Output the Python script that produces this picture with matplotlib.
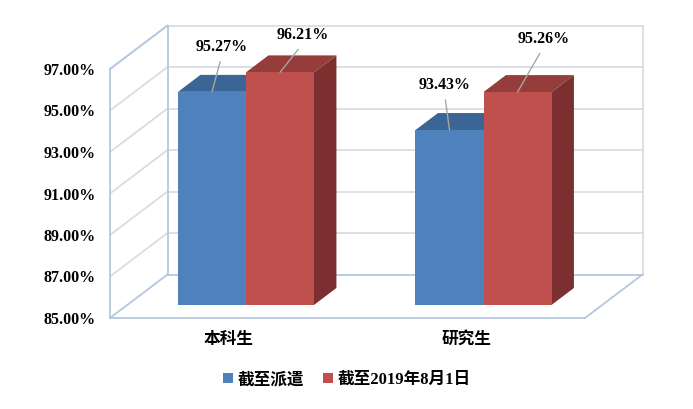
import matplotlib
matplotlib.use("Agg")
import matplotlib.pyplot as plt
from matplotlib.patches import Polygon

categories = ["本科生", "研究生"]
series_names = ["截至派遣", "截至2019年8月1日"]
series_a = [95.27, 93.43]
series_b = [96.21, 95.26]
y_ticks = [85, 87, 89, 91, 93, 95, 97]

FONT = ["Liberation Serif", "Noto Sans CJK SC", "DejaVu Sans"]
plt.rcParams["font.family"] = FONT
plt.rcParams["font.weight"] = "bold"

W, H = 693, 409
fig = plt.figure(figsize=(W / 100, H / 100), dpi=100)
L, R, T, B = 110, 585, 69, 318
ax = fig.add_axes([L / W, 1 - B / H, (R - L) / W, (B - T) / H])
ax.set_xlim(0, 2)
ax.set_ylim(85, 97)
ax.patch.set_visible(False)

wall_blue = "#b4c7e0"
grid_grey = "#d9dce3"
DX = 57.5 / ((R - L) / 2)    # depth 1 -> x-units
DY = 43.5 / ((B - T) / 12)   # depth 1 -> y-units


def P(x, y, d=0.0):
    return (x + d * DX, y + d * DY)


def line(p, q, color, z=1, lw=1.3):
    ax.plot([p[0], q[0]], [p[1], q[1]], color=color, lw=lw, zorder=z,
            clip_on=False, solid_capstyle="round")


# back wall and left wall gridlines
for v in y_ticks[1:]:
    line(P(0, v), P(0, v, 1), grid_grey)
    line(P(0, v, 1), P(2, v, 1), grid_grey)
line(P(2, 85, 1), P(2, 97, 1), grid_grey)
# frame
line(P(0, 97), P(0, 97, 1), wall_blue, 2)
line(P(0, 85, 1), P(0, 97, 1), wall_blue, 2)
line(P(0, 85), P(0, 85, 1), wall_blue, 2)
line(P(0, 85, 1), P(2, 85, 1), wall_blue, 2)
line(P(2, 85), P(2, 85, 1), wall_blue, 2)

# bars
d0, d1 = 0.30, 0.69
bw = 68 / ((R - L) / 2)
styles = [("#4f81bd", "#3a6595", "#345a85"), ("#c0504d", "#953d3b", "#7b2f2e")]
label_off = [[(10, 37), (23, 29)], [(-5, 37), (26, 45)]]
for s, (vals, name) in enumerate(zip((series_a, series_b), series_names)):
    front, top, side = styles[s]
    for c, v in enumerate(vals):
        x0 = c + 0.5 - bw + s * bw
        x1 = x0 + bw
        ax.add_patch(Polygon([P(x1, 85, d0), P(x1, 85, d1), P(x1, v, d1), P(x1, v, d0)],
                             fc=side, ec="none", zorder=3 + s, clip_on=False))
        ax.add_patch(Polygon([P(x0, v, d0), P(x1, v, d0), P(x1, v, d1), P(x0, v, d1)],
                             fc=top, ec="none", zorder=3 + s, clip_on=False))
        ax.add_patch(Polygon([P(x0, 85, d0), P(x1, 85, d0), P(x1, v, d0), P(x0, v, d0)],
                             fc=front, ec="none", zorder=3 + s, clip_on=False,
                             label=name if c == 0 else None))
        ax.annotate(f"{v:.2f}%", xy=P((x0 + x1) / 2, v, d0), xycoords="data",
                    xytext=label_off[c][s], textcoords="offset pixels",
                    ha="center", va="bottom", fontsize=11.5, fontweight="bold",
                    annotation_clip=False, zorder=10,
                    arrowprops=dict(arrowstyle="-", color="#a6a6a6", lw=1,
                                    shrinkA=3, shrinkB=0, relpos=(0.5, 0)))

# axes
for k in ("top", "right"):
    ax.spines[k].set_visible(False)
ax.spines["left"].set_color(wall_blue)
ax.spines["bottom"].set_color(wall_blue)
ax.spines["left"].set_linewidth(1.3)
ax.spines["bottom"].set_linewidth(1.3)
ax.set_yticks(y_ticks, [f"{v:.2f}%" for v in y_ticks], fontsize=11.5, fontweight="bold")
ax.set_xticks([0.5, 1.5], categories, fontsize=12, fontweight="bold")
ax.tick_params(length=0)
ax.tick_params(axis="x", pad=10)
ax.tick_params(axis="y", pad=10)

ax.legend(loc="center", bbox_to_anchor=(347 / W, 1 - 380 / H), bbox_transform=fig.transFigure,
          ncol=2, frameon=False, fontsize=12, handlelength=0.6, handleheight=0.6,
          handletextpad=0.3, columnspacing=1.1, borderpad=0)

fig.savefig("out.png", dpi=100, facecolor="white")
